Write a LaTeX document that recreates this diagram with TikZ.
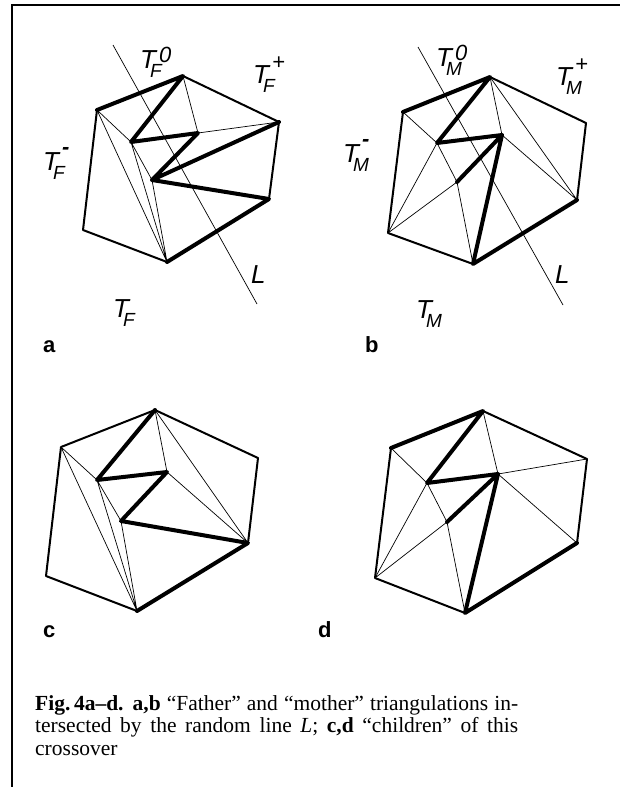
\documentclass[tikz,border=0pt]{standalone}
\usepackage{fontspec}
\setmainfont{Liberation Serif}
\newfontfamily\lsans{Liberation Sans}
\newcommand{\TL}[3]{T\rlap{\kern-6pt\raisebox{-9pt}{\fontsize{19}{19}\selectfont #1}}\kern3pt\raisebox{#3}{\fontsize{22}{22}\selectfont #2}}
\tikzset{
  thk/.style={line width=4pt, line join=round, line cap=round},
  med/.style={line width=2pt, line join=round, line cap=round},
  thn/.style={line width=0.7pt},
  lab/.style={anchor=base west, inner sep=0pt, font=\lsans\itshape\fontsize{26}{26}\selectfont},
  pan/.style={anchor=base west, inner sep=0pt, font=\lsans\bfseries\fontsize{22}{22}\selectfont},
}
\begin{document}
\begin{tikzpicture}[x=1pt,y=-1pt]
\useasboundingbox (0,0) rectangle (620,787);
% frame
\draw[line width=2.2pt] (12,787) -- (12,5) -- (620,5);

% ---------- panel a ----------
\coordinate (a1) at (97,110);  \coordinate (a2) at (183,76);
\coordinate (a3) at (279,122); \coordinate (a4) at (269,199);
\coordinate (a5) at (167,262); \coordinate (a6) at (83,230);
\coordinate (ap) at (131,142); \coordinate (aq) at (198,133);
\coordinate (ar) at (152,180);
\coordinate (aLs) at (113,45); \coordinate (aLe) at (257,304);
\draw[thn] (a2)--(aq) (aq)--(a3) (a1)--(ap) (a1)--(a5) (ap)--(a5) (ap)--(ar) (ar)--(a5);
\draw[thn] (aLs)--(aLe);
\draw[med] (a2)--(a3)--(a4) (a1)--(a6)--(a5);
\draw[thk] (a1)--(a2)--(ap)--(aq)--(ar)--(a3) (ar)--(a4)--(a5);
\node[lab] (aT0) at (140,68) {\TL{F}{0}{6pt}};
\node[lab] (aTp) at (253,83) {\TL{F}{+}{14pt}};
\node[lab] (aTm) at (43,170) {\TL{F}{\bfseries -}{16pt}};
\node[lab] (aT) at (113,317) {T\kern-6pt\raisebox{-9pt}{\fontsize{19}{19}\selectfont F}};
\node[lab] (aL) at (251,283) {L};
\node[pan] (la) at (43,352) {a};

% ---------- panel b ----------
\coordinate (b1) at (403,112); \coordinate (b2) at (490,77);
\coordinate (b3) at (586,123); \coordinate (b4) at (577,200);
\coordinate (b5) at (473,264); \coordinate (b6) at (388,233);
\coordinate (bp) at (437,143); \coordinate (bq) at (502,135);
\coordinate (bs) at (457,182);
\coordinate (bLs) at (418,47); \coordinate (bLe) at (563,305);
\draw[thn] (b2)--(bq) (b2)--(b4) (bq)--(b4) (b1)--(bp) (bp)--(bs) (bs)--(b5) (b6)--(bp) (b6)--(bs);
\draw[thn] (bLs)--(bLe);
\draw[med] (b2)--(b3)--(b4) (b1)--(b6)--(b5);
\draw[thk] (b1)--(b2)--(bp)--(bq)--(bs) (bq)--(b5)--(b4);
\node[lab] (bT0) at (436,66) {\TL{M}{0}{6pt}};
\node[lab] (bTp) at (556,85) {\TL{M}{+}{14pt}};
\node[lab] (bTm) at (343,162) {\TL{M}{\bfseries -}{16pt}};
\node[lab] (bT) at (416,318) {T\kern-6pt\raisebox{-9pt}{\fontsize{19}{19}\selectfont M}};
\node[lab] (bL) at (555,283) {L};
\node[pan] (lb) at (365,352) {b};

% ---------- panel c ----------
\coordinate (c1) at (61,447);  \coordinate (c2) at (155,410);
\coordinate (c3) at (258,458); \coordinate (c4) at (248,543);
\coordinate (c5) at (137,611); \coordinate (c6) at (46,576);
\coordinate (cp) at (97,480);  \coordinate (cq) at (167,472);
\coordinate (cr) at (121,521);
\draw[thn] (c2)--(cq) (c2)--(c4) (cq)--(c4) (c1)--(cp) (c1)--(c5) (cp)--(c5) (cp)--(cr) (cr)--(c5);
\draw[med] (c1)--(c2)--(c3)--(c4) (c1)--(c6)--(c5);
\draw[thk] (c2)--(cp)--(cq)--(cr)--(c4)--(c5);
\node[pan] (lc) at (43,637) {c};

% ---------- panel d ----------
\coordinate (d1) at (391,448); \coordinate (d2) at (483,411);
\coordinate (d3) at (587,459); \coordinate (d4) at (577,543);
\coordinate (d5) at (465,613); \coordinate (d6) at (375,578);
\coordinate (dp) at (427,483); \coordinate (dq) at (498,474);
\coordinate (ds) at (447,522);
\draw[thn] (d2)--(dq) (dq)--(d3) (dq)--(d4) (d1)--(dp) (dp)--(ds) (ds)--(d5) (d6)--(dp) (d6)--(ds);
\draw[med] (d2)--(d3)--(d4) (d1)--(d6)--(d5);
\draw[thk] (d1)--(d2)--(dp)--(dq)--(ds) (dq)--(d5)--(d4);
\node[pan] (ld) at (318,637) {d};

% ---------- caption ----------
\node[anchor=base west, inner sep=0pt, text width=483pt, align=justify,
      font=\fontsize{21.5}{22.5}\selectfont] (cap) at (35,710)
 {\textbf{Fig.\,4a--d. a,b} “Father” and “mother” triangulations in-\linebreak
  tersected by the random line \textit{L}; \textbf{c,d} “children” of this\linebreak
  crossover};
\end{tikzpicture}
\end{document}
